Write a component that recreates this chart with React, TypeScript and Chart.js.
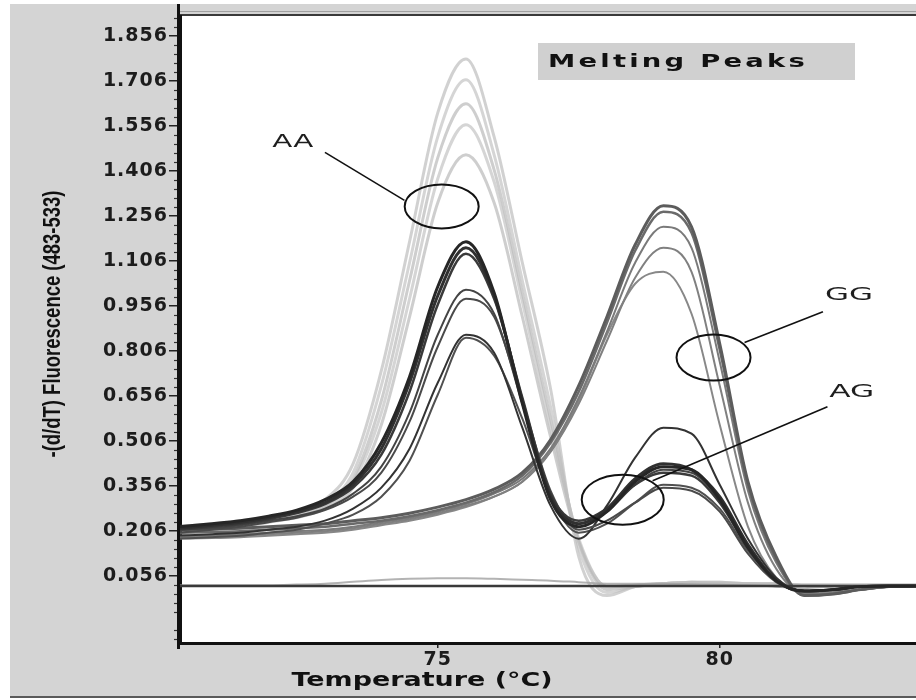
import React, { useEffect, useRef } from "react";
import { Chart, registerables } from "chart.js";

Chart.register(...registerables);

// ---------------- data ----------------
const TEMPS = [70.4, 71, 71.5, 72, 72.5, 73, 73.5, 74, 74.5, 75, 75.5, 76, 76.5, 77, 77.5, 78, 78.5, 79, 79.5, 80, 80.5, 81, 81.5, 82, 82.5, 83, 83.5];

// AA (light grey, single low-temperature peak)
const AA_1 = [0.22, 0.23, 0.24, 0.25, 0.27, 0.31, 0.43, 0.74, 1.17, 1.6, 1.78, 1.52, 1.1, 0.68, 0.12, -0.01, 0.02, 0.03, 0.035, 0.035, 0.03, 0.03, 0.025, 0.025, 0.025, 0.025, 0.025];
const AA_2 = [0.22, 0.225, 0.235, 0.25, 0.265, 0.3, 0.4, 0.69, 1.1, 1.52, 1.71, 1.46, 1.04, 0.62, 0.15, 0.0, 0.02, 0.03, 0.035, 0.035, 0.03, 0.03, 0.025, 0.025, 0.025, 0.025, 0.025];
const AA_3 = [0.215, 0.22, 0.23, 0.245, 0.26, 0.29, 0.38, 0.64, 1.04, 1.45, 1.63, 1.41, 1.0, 0.58, 0.17, 0.01, 0.02, 0.03, 0.035, 0.03, 0.03, 0.03, 0.025, 0.025, 0.025, 0.025, 0.025];
const AA_4 = [0.21, 0.215, 0.225, 0.24, 0.255, 0.285, 0.37, 0.6, 0.98, 1.38, 1.56, 1.37, 0.97, 0.55, 0.18, 0.02, 0.025, 0.03, 0.03, 0.03, 0.03, 0.025, 0.025, 0.025, 0.025, 0.025, 0.025];
const AA_5 = [0.21, 0.215, 0.22, 0.235, 0.25, 0.28, 0.35, 0.56, 0.92, 1.3, 1.46, 1.3, 0.92, 0.52, 0.17, 0.02, 0.025, 0.03, 0.03, 0.03, 0.03, 0.025, 0.025, 0.025, 0.025, 0.025, 0.025];

// AG (dark, two peaks)
const AG_1 = [0.22, 0.23, 0.24, 0.255, 0.275, 0.31, 0.37, 0.5, 0.72, 1.02, 1.17, 1.0, 0.63, 0.31, 0.22, 0.27, 0.37, 0.42, 0.41, 0.31, 0.15, 0.04, 0.005, 0.01, 0.02, 0.022, 0.022];
const AG_2 = [0.215, 0.225, 0.235, 0.25, 0.27, 0.3, 0.36, 0.48, 0.7, 0.99, 1.15, 0.99, 0.64, 0.32, 0.23, 0.28, 0.38, 0.43, 0.41, 0.32, 0.16, 0.04, 0.005, 0.01, 0.02, 0.022, 0.022];
const AG_3 = [0.21, 0.22, 0.23, 0.245, 0.265, 0.295, 0.35, 0.46, 0.67, 0.96, 1.13, 0.98, 0.65, 0.33, 0.24, 0.28, 0.36, 0.4, 0.39, 0.3, 0.15, 0.04, 0.005, 0.01, 0.02, 0.022, 0.022];
const AG_4 = [0.21, 0.215, 0.225, 0.24, 0.255, 0.28, 0.33, 0.42, 0.6, 0.86, 1.01, 0.93, 0.63, 0.33, 0.23, 0.27, 0.36, 0.41, 0.4, 0.31, 0.15, 0.04, 0.005, 0.01, 0.02, 0.022, 0.022];
const AG_5 = [0.2, 0.21, 0.22, 0.235, 0.25, 0.275, 0.32, 0.4, 0.57, 0.82, 0.98, 0.92, 0.64, 0.34, 0.21, 0.24, 0.3, 0.35, 0.34, 0.27, 0.13, 0.035, 0.005, 0.01, 0.02, 0.022, 0.022];
const AG_6 = [0.19, 0.195, 0.2, 0.21, 0.22, 0.24, 0.28, 0.35, 0.48, 0.7, 0.86, 0.8, 0.55, 0.29, 0.18, 0.29, 0.45, 0.55, 0.53, 0.36, 0.18, 0.05, 0.005, 0.01, 0.02, 0.022, 0.022];
const AG_7 = [0.18, 0.185, 0.19, 0.2, 0.21, 0.23, 0.26, 0.32, 0.44, 0.66, 0.85, 0.79, 0.58, 0.32, 0.2, 0.23, 0.3, 0.36, 0.35, 0.28, 0.14, 0.04, 0.005, 0.01, 0.02, 0.022, 0.022];

// GG (mid grey, single high-temperature peak)
const GG_1 = [0.21, 0.212, 0.215, 0.22, 0.225, 0.23, 0.24, 0.25, 0.265, 0.285, 0.31, 0.345, 0.4, 0.51, 0.69, 0.92, 1.16, 1.29, 1.22, 0.83, 0.37, 0.12, -0.01, -0.005, 0.01, 0.02, 0.022];
const GG_2 = [0.2, 0.202, 0.205, 0.21, 0.215, 0.22, 0.23, 0.24, 0.255, 0.275, 0.3, 0.335, 0.39, 0.5, 0.67, 0.9, 1.14, 1.27, 1.2, 0.81, 0.36, 0.11, -0.01, -0.005, 0.01, 0.02, 0.022];
const GG_3 = [0.19, 0.192, 0.195, 0.2, 0.205, 0.21, 0.22, 0.235, 0.25, 0.27, 0.295, 0.33, 0.38, 0.48, 0.65, 0.87, 1.1, 1.22, 1.15, 0.77, 0.34, 0.1, -0.005, 0.0, 0.01, 0.02, 0.022];
const GG_4 = [0.185, 0.187, 0.19, 0.195, 0.2, 0.205, 0.215, 0.23, 0.245, 0.265, 0.29, 0.32, 0.37, 0.47, 0.63, 0.84, 1.05, 1.15, 1.07, 0.69, 0.3, 0.08, 0.0, 0.005, 0.01, 0.02, 0.022];
const GG_5 = [0.18, 0.182, 0.185, 0.19, 0.195, 0.2, 0.21, 0.225, 0.24, 0.26, 0.285, 0.32, 0.37, 0.47, 0.64, 0.86, 1.03, 1.07, 0.93, 0.56, 0.22, 0.05, 0.0, 0.005, 0.01, 0.02, 0.022];

// negative controls / baselines
const BASE_1 = [0.022, 0.022, 0.022, 0.022, 0.022, 0.022, 0.022, 0.022, 0.022, 0.022, 0.022, 0.022, 0.022, 0.022, 0.022, 0.022, 0.022, 0.022, 0.022, 0.022, 0.022, 0.022, 0.022, 0.022, 0.022, 0.022, 0.022];
const BASE_2 = [0.025, 0.025, 0.025, 0.025, 0.027, 0.03, 0.036, 0.042, 0.046, 0.048, 0.048, 0.046, 0.043, 0.04, 0.035, 0.03, 0.03, 0.03, 0.028, 0.026, 0.025, 0.02, 0.015, 0.02, 0.022, 0.024, 0.025];

const Y_TICKS = [0.056, 0.206, 0.356, 0.506, 0.656, 0.806, 0.956, 1.106, 1.256, 1.406, 1.556, 1.706, 1.856];
const X_TICKS = [75, 80];

const Y_TITLE = "-(d/dT) Fluorescence (483-533)";
const X_TITLE = "Temperature (°C)";
const PANEL_TITLE = "Melting Peaks";

// annotation anchors in data coordinates
const ANNOTATIONS = [
  { label: "AA", center: [75.07, 1.288], from: [73.0, 1.468], to: [74.41, 1.308], text: [72.43, 1.502] },
  { label: "GG", center: [79.89, 0.784], from: [80.44, 0.834], to: [81.83, 0.937], text: [82.29, 0.991] },
  { label: "AG", center: [78.28, 0.31], from: [78.81, 0.373], to: [81.91, 0.62], text: [82.34, 0.667] },
];

// ---------------- styles ----------------
const W = 916;
const H = 700;
const ELLIPSE_R: Record<string, [number, number]> = { AA: [37, 22], GG: [37, 23], AG: [41, 25] };
const LABEL_W: Record<string, number> = { AA: 41, GG: 48, AG: 45 };

const SERIES: { data: number[]; color: string; width: number }[] = [
  { data: AG_1, color: "#262626", width: 3 },
  { data: AG_2, color: "#303030", width: 3 },
  { data: AG_3, color: "#3a3a3a", width: 2.5 },
  { data: AG_4, color: "#444444", width: 2 },
  { data: AG_5, color: "#4a4a4a", width: 2 },
  { data: AG_6, color: "#333333", width: 2 },
  { data: AG_7, color: "#505050", width: 2 },
  { data: BASE_1, color: "#3a3a3a", width: 2.5 },
  { data: BASE_2, color: "rgba(160,160,160,0.8)", width: 2 },
  { data: GG_1, color: "#5c5c5c", width: 3 },
  { data: GG_2, color: "#6a6a6a", width: 2.5 },
  { data: GG_3, color: "#7a7a7a", width: 2 },
  { data: GG_4, color: "#808080", width: 2 },
  { data: GG_5, color: "#888888", width: 2 },
  { data: AA_1, color: "rgba(190,190,190,0.7)", width: 3 },
  { data: AA_2, color: "rgba(195,195,195,0.7)", width: 3 },
  { data: AA_3, color: "rgba(185,185,185,0.7)", width: 3 },
  { data: AA_4, color: "rgba(195,195,195,0.7)", width: 3 },
  { data: AA_5, color: "rgba(185,185,185,0.7)", width: 3 },
];

function fitText(
  ctx: CanvasRenderingContext2D,
  text: string,
  cx: number,
  cy: number,
  font: string,
  width: number,
  color: string,
  rot = 0,
  spacing = "0px"
) {
  ctx.save();
  ctx.font = font;
  (ctx as any).letterSpacing = spacing;
  const m = ctx.measureText(text).width;
  ctx.translate(cx, cy);
  if (rot) ctx.rotate(rot);
  ctx.scale(width / m, 1);
  ctx.fillStyle = color;
  ctx.textAlign = "center";
  ctx.textBaseline = "middle";
  ctx.fillText(text, 0, 0);
  ctx.restore();
}

const decorPlugin = {
  id: "decor",
  beforeDraw(chart: any) {
    const ctx: CanvasRenderingContext2D = chart.ctx;
    const { left, top, right, bottom } = chart.chartArea;
    ctx.save();
    ctx.fillStyle = "#ffffff";
    ctx.fillRect(0, 0, W, H);
    ctx.fillStyle = "#d4d4d4";
    ctx.fillRect(10, 4, W - 10, 693);
    ctx.fillStyle = "#ffffff";
    ctx.fillRect(left, top, right - left, bottom - top);
    ctx.fillStyle = "#5a5a5a";
    ctx.fillRect(10, 696, W - 10, 2);
    ctx.fillStyle = "#a0a0a0";
    ctx.fillRect(left, 11, right - left, 1);
    ctx.fillStyle = "#3a3a3a";
    ctx.fillRect(left, 14, right - left, 2);
    // "Melting Peaks" box
    ctx.fillStyle = "#d0d0d0";
    ctx.fillRect(538, 43, 317, 37);
    ctx.restore();
    (ctx as any).letterSpacing = "1px";
  },
  afterDatasetsDraw(chart: any) {
    const ctx: CanvasRenderingContext2D = chart.ctx;
    const xs = chart.scales.x;
    const ys = chart.scales.y;
    ctx.save();
    (ctx as any).letterSpacing = "0px";
    ctx.strokeStyle = "#111";
    for (const a of ANNOTATIONS) {
      const cx = xs.getPixelForValue(a.center[0]);
      const cy = ys.getPixelForValue(a.center[1]);
      const [rx, ry] = ELLIPSE_R[a.label];
      ctx.lineWidth = 2;
      ctx.beginPath();
      ctx.ellipse(cx, cy, rx, ry, 0, 0, Math.PI * 2);
      ctx.stroke();
      ctx.lineWidth = 1.6;
      ctx.beginPath();
      ctx.moveTo(xs.getPixelForValue(a.from[0]), ys.getPixelForValue(a.from[1]));
      ctx.lineTo(xs.getPixelForValue(a.to[0]), ys.getPixelForValue(a.to[1]));
      ctx.stroke();
      fitText(
        ctx,
        a.label,
        xs.getPixelForValue(a.text[0]),
        ys.getPixelForValue(a.text[1]),
        '17px "DejaVu Sans"',
        LABEL_W[a.label],
        "#1e1e1e"
      );
    }
    ctx.restore();
  },
  afterDraw(chart: any) {
    const ctx: CanvasRenderingContext2D = chart.ctx;
    const ys = chart.scales.y;
    const { left, top, bottom } = chart.chartArea;
    ctx.save();
    (ctx as any).letterSpacing = "0px";
    // minor ticks on y
    ctx.strokeStyle = "#333";
    ctx.lineWidth = 1.2;
    for (let k = -7; k <= 62; k++) {
      if (k % 5 === 0) continue;
      const py = ys.getPixelForValue(0.056 + 0.03 * k);
      if (py < top || py > bottom) continue;
      ctx.beginPath();
      ctx.moveTo(left - 6, Math.round(py) + 0.5);
      ctx.lineTo(left, Math.round(py) + 0.5);
      ctx.stroke();
    }
    // extended left axis line
    ctx.fillStyle = "#111";
    ctx.fillRect(left - 3, 4, 3, 645);
    // panel title
    fitText(ctx, PANEL_TITLE, 678, 63, 'bold 17px "DejaVu Sans"', 260, "#111", 0, "2px");
    // axis titles
    fitText(ctx, X_TITLE, 422, 681, 'bold 20px "DejaVu Sans"', 261, "#111");
    fitText(ctx, Y_TITLE, 54, 324, 'bold 23px "Liberation Sans"', 267, "#111", -Math.PI / 2);
    ctx.restore();
    (ctx as any).letterSpacing = "0px";
  },
};

export default function App() {
  const ref = useRef<HTMLCanvasElement | null>(null);
  useEffect(() => {
    if (!ref.current) return;
    const chart = new Chart(ref.current, {
      type: "line",
      data: {
        labels: TEMPS,
        datasets: SERIES.map((s) => ({
          data: s.data.map((v, i) => ({ x: TEMPS[i], y: v })),
          borderColor: s.color,
          borderWidth: s.width,
          pointRadius: 0,
          fill: false,
          cubicInterpolationMode: "monotone" as const,
        })),
      },
      options: {
        responsive: false,
        animation: false,
        devicePixelRatio: 1,
        layout: { padding: { top: 16, left: 0, right: 0, bottom: 0 } },
        plugins: {
          legend: { display: false },
          tooltip: { enabled: false },
          title: { display: false },
        },
        scales: {
          x: {
            type: "linear",
            min: 70.43,
            max: 83.48,
            afterBuildTicks: (s: any) => {
              s.ticks = X_TICKS.map((v) => ({ value: v }));
            },
            afterFit: (s: any) => {
              s.height = 57;
            },
            ticks: {
              autoSkip: false,
              maxRotation: 0,
              padding: 1,
              color: "#1c1c1c",
              font: { family: '"DejaVu Sans"', size: 19, weight: "bold" },
              callback: (v: any) => String(v),
            },
            grid: { drawOnChartArea: false, tickLength: 5, color: "#222", lineWidth: 1.5 },
            border: { color: "#111", width: 3 },
          },
          y: {
            type: "linear",
            min: -0.168,
            max: 1.923,
            afterBuildTicks: (s: any) => {
              s.ticks = Y_TICKS.map((v) => ({ value: v }));
            },
            afterFit: (s: any) => {
              s.width = 180;
            },
            ticks: {
              autoSkip: false,
              padding: 1,
              color: "#1c1c1c",
              font: { family: '"DejaVu Sans"', size: 19, weight: "bold" },
              callback: (v: any) => Number(v).toFixed(3),
            },
            grid: { drawOnChartArea: false, tickLength: 11, color: "#222", lineWidth: 1.5 },
            border: { color: "#111", width: 3 },
          },
        },
      },
      plugins: [decorPlugin],
    });
    return () => chart.destroy();
  }, []);
  return (
    <canvas
      ref={ref}
      width={W}
      height={H}
      style={{ position: "fixed", left: 0, top: 0, width: W, height: H }}
    />
  );
}
